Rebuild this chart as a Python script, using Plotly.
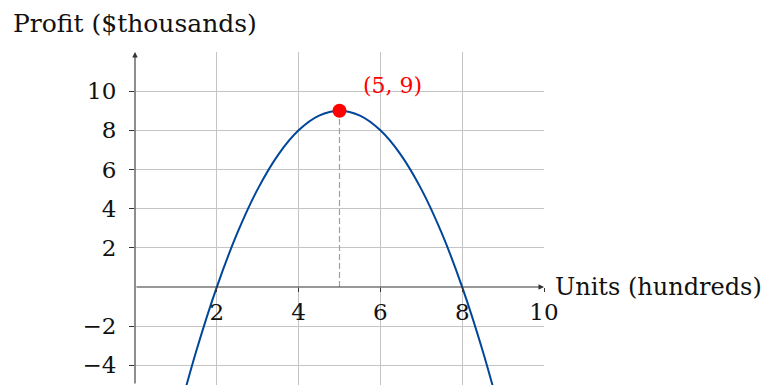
import plotly.graph_objects as go

# Profit curve (units in hundreds, profit in $thousands)
units = [1.0, 1.5, 2.0, 2.5, 3.0, 3.5, 4.0, 4.5, 5.0, 5.5, 6.0, 6.5, 7.0, 7.5, 8.0, 8.5, 9.0]
profit = [-7.0, -3.25, 0.0, 2.75, 5.0, 6.75, 8.0, 8.75, 9.0, 8.75, 8.0, 6.75, 5.0, 2.75, 0.0, -3.25, -7.0]

peak_x = [5]
peak_y = [9]
peak_label = "(5, 9)"

x_ticks = [2, 4, 6, 8, 10]
y_ticks = [-4, -2, 2, 4, 6, 8, 10]
x_range = [0, 10]
y_range = [-5, 12]

x_title = "Units (hundreds)"
y_title = "Profit ($thousands)"

FONT = "DejaVu Serif"
FS_TICK = 23
FS_XTITLE = 24
FS_YTITLE = 25
FS_LABEL = 22
GRID = "#c4c4c4"
AXIS = "#333333"
TXT = "#111111"

fig = go.Figure()

fig.add_trace(go.Scatter(
    x=units, y=profit, mode="lines",
    line=dict(color="#00469a", width=2, shape="spline", smoothing=1.0),
    hoverinfo="skip", showlegend=False,
))

fig.add_trace(go.Scatter(
    x=[peak_x[0], peak_x[0]], y=[0, peak_y[0]], mode="lines",
    line=dict(color="#a0a0a0", width=1.2, dash="6px,3px"),
    showlegend=False,
))

fig.add_trace(go.Scatter(
    x=peak_x, y=peak_y, mode="markers",
    marker=dict(color="#ff0000", size=14),
    showlegend=False,
))

# axes with arrow heads
fig.add_annotation(x=x_range[1], y=0, ax=x_range[0], ay=0, xref="x", yref="y",
                   axref="x", ayref="y", text="", showarrow=True,
                   arrowhead=2, arrowsize=1, arrowwidth=1.1, arrowcolor=AXIS, standoff=0)
fig.add_annotation(x=0, y=y_range[1], ax=0, ay=y_range[0], xref="x", yref="y",
                   axref="x", ayref="y", text="", showarrow=True,
                   arrowhead=2, arrowsize=1, arrowwidth=1.1, arrowcolor=AXIS, standoff=0)

# peak label
fig.add_annotation(x=peak_x[0], y=peak_y[0], text=peak_label, showarrow=False,
                   xanchor="left", yanchor="middle", xshift=21, yshift=25,
                   font=dict(family=FONT, size=FS_LABEL, color="#ff0000"))

# axis titles
fig.add_annotation(x=x_range[1], y=0, text=x_title, showarrow=False,
                   xanchor="left", yanchor="middle", xshift=9,
                   font=dict(family=FONT, size=FS_XTITLE, color=TXT))
fig.add_annotation(x=0, y=1, xref="x", yref="paper", text=y_title, showarrow=False,
                   xanchor="center", yanchor="bottom", yshift=12,
                   font=dict(family=FONT, size=FS_YTITLE, color=TXT))

# the page body adds an 8px offset, so margins are compensated
fig.update_layout(
    width=774, height=385,
    margin=dict(l=127, r=238, t=44, b=8),
    plot_bgcolor="white", paper_bgcolor="white",
    font=dict(family=FONT, size=FS_TICK, color=TXT),
    xaxis=dict(
        range=x_range, tickvals=x_ticks, showgrid=True, gridcolor=GRID, gridwidth=1,
        zeroline=False, showline=False, anchor="free",
        position=(0 - y_range[0]) / (y_range[1] - y_range[0]),
        ticks="outside", ticklen=4, tickcolor=AXIS, tickwidth=1,
        tickfont=dict(family=FONT, size=FS_TICK, color=TXT),
    ),
    yaxis=dict(
        range=y_range, tickvals=y_ticks, showgrid=True, gridcolor=GRID, gridwidth=1,
        zeroline=False, showline=False,
        ticks="outside", ticklen=5, tickcolor=AXIS, tickwidth=1,
        tickfont=dict(family=FONT, size=FS_TICK, color=TXT),
        ticklabelstandoff=8,
    ),
)

fig.write_html("out.html")
